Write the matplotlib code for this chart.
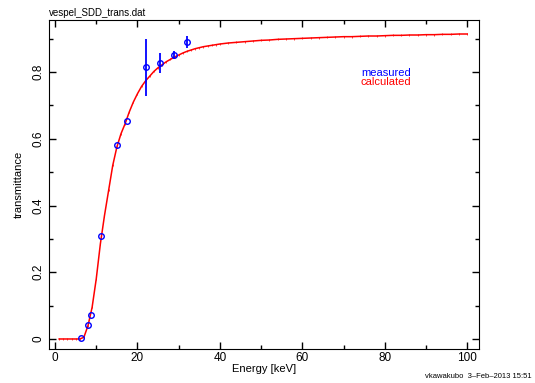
import matplotlib.pyplot as plt
from matplotlib.ticker import MultipleLocator, FuncFormatter

plt.rcParams['font.family'] = ['Liberation Sans', 'DejaVu Sans']

# measured transmittance
meas_e = [6.4, 8.05, 8.65, 11.25, 14.95, 17.5, 22.15, 25.35, 28.75, 32.1]
meas_t = [0.002, 0.043, 0.073, 0.31, 0.58, 0.653, 0.814, 0.828, 0.852, 0.889]
meas_err = [0.0, 0.0, 0.0, 0.0, 0.0, 0.0, 0.085, 0.03, 0.012, 0.018]

# calculated transmittance
calc_e = list(range(1, 41)) + list(range(42, 101, 2))
calc_t = [0.0, 0.0, 0.0, 0.0, 0.0, 0.0, 0.005, 0.04, 0.095, 0.18,
          0.285, 0.37, 0.445, 0.52, 0.575, 0.615, 0.645, 0.68, 0.71, 0.735,
          0.757, 0.774, 0.788, 0.802, 0.813, 0.822, 0.831, 0.838, 0.845, 0.851,
          0.857, 0.862, 0.866, 0.870, 0.873, 0.876, 0.878, 0.880, 0.882, 0.884,
          0.887, 0.889, 0.891, 0.893, 0.895, 0.896, 0.898, 0.899, 0.900, 0.901,
          0.902, 0.903, 0.904, 0.905, 0.906, 0.906, 0.907, 0.908, 0.908, 0.909,
          0.910, 0.910, 0.911, 0.911, 0.912, 0.912, 0.913, 0.913, 0.914, 0.914]

fig = plt.figure(figsize=(5.35, 3.83), dpi=100)
ax = fig.add_axes([0.0916, 0.0888, 0.804, 0.859])

ax.plot(calc_e, calc_t, color='red', lw=1.1, marker='|', ms=2, mew=0.5)
ax.errorbar(meas_e, meas_t, yerr=meas_err, fmt='o', color='blue', mfc='none',
            ms=4, mew=1, elinewidth=1.3, capsize=0)

ax.set_xlim(-1.46, 102.9)
ax.set_ylim(-0.03, 0.956)
ax.xaxis.set_major_locator(MultipleLocator(20))
ax.xaxis.set_minor_locator(MultipleLocator(10))
ax.yaxis.set_major_locator(MultipleLocator(0.2))
ax.yaxis.set_minor_locator(MultipleLocator(0.1))
ax.yaxis.set_major_formatter(FuncFormatter(lambda v, p: '0' if abs(v) < 1e-9 else f'{v:g}'))
ax.tick_params(which='both', direction='in', top=True, right=True, labelsize=8.5)
ax.tick_params(which='major', length=5, width=1)
ax.tick_params(which='minor', length=3, width=1)
ax.tick_params(axis='x', pad=2)
ax.tick_params(axis='y', labelrotation=90)
for lab in ax.get_yticklabels():
    lab.set_va('center')

ax.set_xlabel('Energy [keV]', fontsize=8, labelpad=0)
ax.set_ylabel('transmittance', fontsize=8, labelpad=6)
ax.set_title('vespel_SDD_trans.dat', fontsize=7, loc='left', pad=3)

fig.text(411 / 535, 1 - 72.7 / 383, 'measured', color='blue', fontsize=8,
         ha='right', va='center')
fig.text(411 / 535, 1 - 82.3 / 383, 'calculated', color='red', fontsize=8,
         ha='right', va='center')
fig.text(532 / 535, 1 - 377 / 383, 'vkawakubo  3\u2013Feb\u20132013 15:51',
         fontsize=5.5, ha='right', va='center')

fig.savefig('out.png', dpi=100)
